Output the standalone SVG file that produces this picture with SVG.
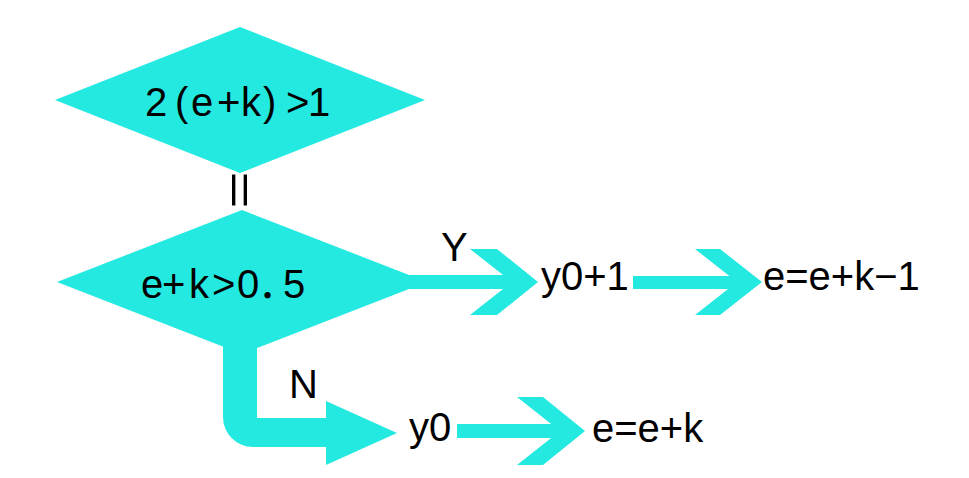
<svg xmlns="http://www.w3.org/2000/svg" width="969" height="478" viewBox="0 0 969 478">
  <style>
    .shape { fill: #23E9E1; stroke: none; }
    .txt { font-family: "Liberation Sans", "Noto Sans CJK JP", sans-serif; font-size: 40px; fill: #000; }
  </style>
  <rect width="969" height="478" fill="#fff"/>
  <g id="connectors">
    <!-- Y: decision -> y0+1 -->
    <rect class="shape" x="400" y="275" width="115" height="14"/>
    <polygon class="shape" points="470,249 497,249 538,282 497,315 470,315 512,282"/>
    <!-- y0+1 -> e=e+k-1 -->
    <rect class="shape" x="633" y="276" width="106" height="13"/>
    <polygon class="shape" points="695,249 720,249 762,282 720,315 695,315 737,282"/>
    <!-- N: decision -> y0 -->
    <path class="shape" d="M223,330 V417 A30,30 0 0 0 253,447 H326 V465 L397,433 L326,401 V418 H257 V330 Z"/>
    <!-- y0 -> e=e+k -->
    <rect class="shape" x="457" y="424" width="105" height="14"/>
    <polygon class="shape" points="517,397 543,397 585,431 543,465 517,465 560,431"/>
    <text class="txt" x="441" y="261">Y</text>
    <text class="txt" x="289" y="398">N</text>
  </g>
  <g id="decision1">
    <polygon class="shape" points="55,100 240,27 425,100 240,173"/>
    <text class="txt" x="145 175 191 217 241 263 286 308" y="116">2(e+k)&gt;1</text>
  </g>
  <g id="equals">
    <text class="txt" x="0" y="13" text-anchor="middle" transform="translate(239,190) rotate(90) scale(1.6,1.15)">=</text>
  </g>
  <g id="decision2">
    <polygon class="shape" points="57,282 242,210 427,282 242,354"/>
    <text class="txt" x="141 162 189 212 237 258 283" y="298">e+k&gt;0．5</text>
  </g>
  <g id="y0plus1">
    <text class="txt" x="541" y="290">y0+1</text>
  </g>
  <g id="e_update1">
    <text class="txt" x="763" y="290">e=e+k−1</text>
  </g>
  <g id="y0">
    <text class="txt" x="409" y="441">y0</text>
  </g>
  <g id="e_update2">
    <text class="txt" x="592" y="442">e=e+k</text>
  </g>
</svg>
